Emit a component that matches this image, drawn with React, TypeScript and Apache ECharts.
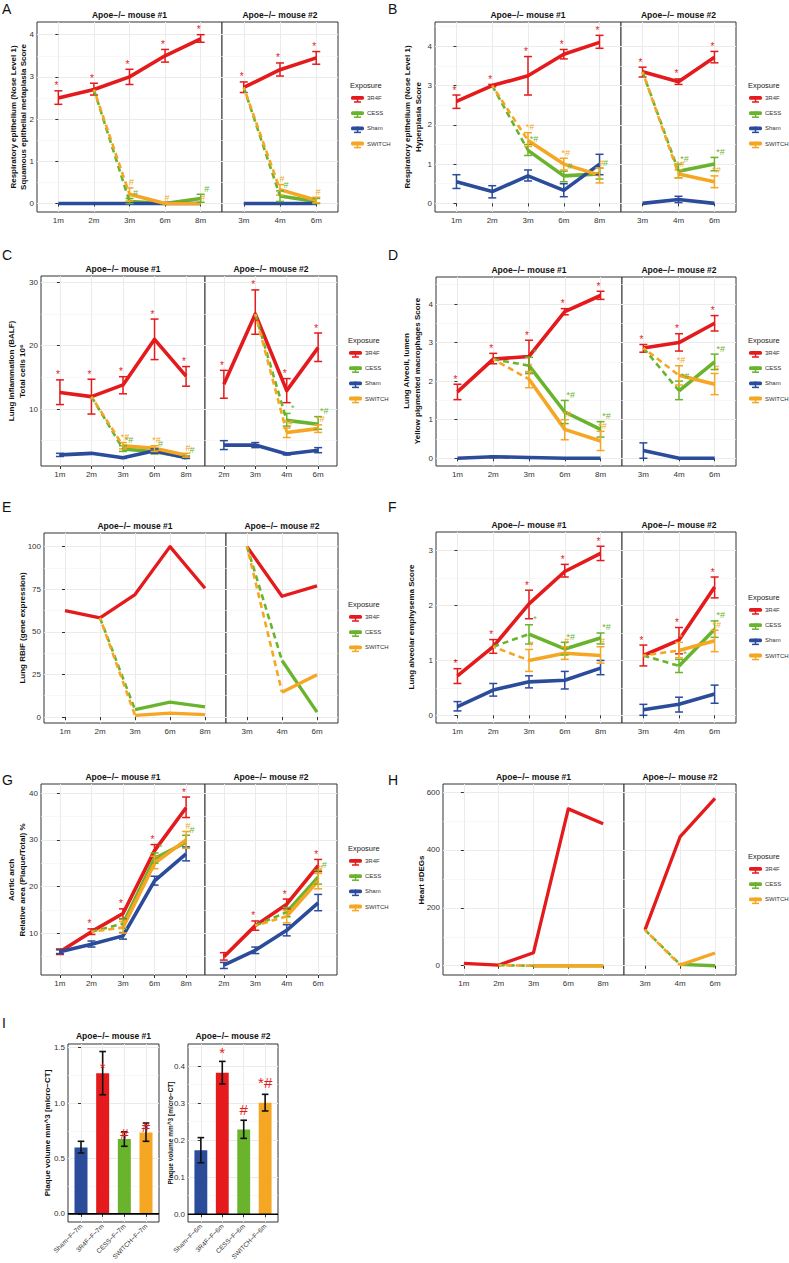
import React, { useEffect, useRef } from "react";
import * as echarts from "echarts";

const FONT = "'Liberation Sans', Arial, Helvetica, sans-serif";
const RED = "#e41a1c";
const GREEN = "#6ab42d";
const BLUE = "#2b4c9b";
const ORANGE = "#f5a623";
const INK = "#333333";
const GRIDC = "#ebebeb";
const COLORS: Record<string, string> = { "3R4F": RED, CESS: GREEN, Sham: BLUE, SWITCH: ORANGE };

// ---------------- categories / ticks ----------------
const X_18 = ["1m", "2m", "3m", "6m", "8m"];
const X_346 = ["3m", "4m", "6m"];
const X_2346 = ["2m", "3m", "4m", "6m"];
const EXPO4 = ["3R4F", "CESS", "Sham", "SWITCH"];
const EXPO3 = ["3R4F", "CESS", "SWITCH"];
const STRIP1 = "Apoe\u2212/\u2212 mouse #1";
const STRIP2 = "Apoe\u2212/\u2212 mouse #2";

// ---------------- Panel A : [mean, low, high] ----------------
const A1_3R4F = [[2.5, 2.35, 2.67], [2.7, 2.57, 2.85], [3.0, 2.82, 3.18], [3.5, 3.35, 3.65], [3.9, 3.82, 4.0]];
const A1_CESS = [null, null, [0.05, 0, 0.12], [0, 0, 0], [0.12, 0.03, 0.22]];
const A1_SHAM = [[0, 0, 0], [0, 0, 0], [0, 0, 0], [0, 0, 0], [0, 0, 0]];
const A1_SWITCH = [null, null, [0.22, 0.06, 0.37], [0, 0, 0], [0, 0, 0]];
const A2_3R4F = [[2.75, 2.63, 2.88], [3.17, 3.02, 3.33], [3.45, 3.3, 3.6]];
const A2_CESS = [null, [0.18, 0.05, 0.3], [0.05, 0, 0.12]];
const A2_SHAM = [[0, 0, 0], [0, 0, 0], [0, 0, 0]];
const A2_SWITCH = [null, [0.33, 0.2, 0.45], [0.08, 0.02, 0.15]];
const A1_SIG_3R4F = ["*", "*", "*", "*", "*"];
const A1_SIG_CESS = ["", "", "#", "", "#"];
const A1_SIG_SWITCH = ["", "", "#", "#", "#"];
const A2_SIG_3R4F = ["*", "*", "*"];
const A2_SIG_CESS = ["", "#", ""];
const A2_SIG_SWITCH = ["", "#", "#"];

// ---------------- Panel B ----------------
const B1_3R4F = [[2.6, 2.42, 2.76], [3.0, 2.97, 3.03], [3.25, 2.76, 3.74], [3.8, 3.68, 3.92], [4.1, 3.95, 4.28]];
const B1_CESS = [null, null, [1.35, 1.22, 1.5], [0.7, 0.55, 0.82], [0.75, 0.62, 0.9]];
const B1_SHAM = [[0.55, 0.38, 0.73], [0.3, 0.14, 0.45], [0.7, 0.57, 0.85], [0.33, 0.17, 0.5], [1.0, 0.73, 1.25]];
const B1_SWITCH = [null, null, [1.6, 1.45, 1.8], [1.0, 0.85, 1.15], [0.72, 0.52, 0.9]];
const B2_3R4F = [[3.35, 3.22, 3.47], [3.1, 3.03, 3.17], [3.72, 3.58, 3.87]];
const B2_CESS = [null, [0.82, 0.65, 1.0], [1.0, 0.83, 1.17]];
const B2_SHAM = [[0, 0, 0], [0.1, 0.02, 0.18], [0, 0, 0]];
const B2_SWITCH = [null, [0.75, 0.65, 0.85], [0.55, 0.4, 0.7]];
const B1_SIG_3R4F = ["*", "*", "*", "*", "*"];
const B1_SIG_CESS = ["", "", "*#", "#", "#"];
const B1_SIG_SWITCH = ["", "", "*#", "*#", "#"];
const B2_SIG_3R4F = ["*", "*", "*"];
const B2_SIG_CESS = ["", "*#", "*#"];
const B2_SIG_SWITCH = ["", "*#", "*#"];

// ---------------- Panel C ----------------
const C1_3R4F = [[12.6, 10.7, 14.6], [11.95, 9.2, 14.7], [13.8, 12.4, 15.1], [21.0, 17.8, 24.2], [15.2, 13.6, 16.7]];
const C1_CESS = [null, null, [3.7, 3.3, 4.2], [3.25, 2.9, 3.6], [2.4, 2.2, 2.6]];
const C1_SHAM = [[2.75, 2.5, 3.0], [3.0, 2.9, 3.1], [2.3, 2.2, 2.4], [3.4, 3.0, 3.7], [2.3, 2.2, 2.4]];
const C1_SWITCH = [null, null, [4.2, 3.7, 4.7], [3.8, 3.3, 4.2], [2.7, 2.4, 3.0]];
const C2_3R4F = [[13.9, 11.7, 16.1], [25.0, 21.8, 28.8], [12.9, 11.0, 14.8], [19.7, 17.5, 22.0]];
const C2_CESS = [null, null, [8.2, 7.3, 9.3], [7.6, 6.8, 8.8]];
const C2_SHAM = [[4.3, 3.6, 5.0], [4.3, 3.9, 4.7], [2.9, 2.75, 3.05], [3.5, 3.1, 3.9]];
const C2_SWITCH = [null, null, [6.3, 5.5, 7.0], [6.9, 6.3, 7.5]];
const C1_SIG_3R4F = ["*", "*", "*", "*", "*"];
const C1_SIG_CESS = ["", "", "*#", "#", "#"];
const C1_SIG_SWITCH = ["", "", "*#", "*#", "#"];
const C2_SIG_3R4F = ["*", "*", "*", "*"];
const C2_SIG_CESS = ["", "", "*", "*#"];
const C2_SIG_SWITCH = ["", "", "*#", "*#"];

// ---------------- Panel D ----------------
const D1_3R4F = [[1.72, 1.52, 1.92], [2.57, 2.45, 2.72], [2.64, 2.2, 3.06], [3.8, 3.72, 3.88], [4.22, 4.12, 4.33]];
const D1_CESS = [null, null, [2.4, 2.2, 2.62], [1.2, 0.9, 1.5], [0.75, 0.55, 0.95]];
const D1_SHAM = [[0, 0, 0], [0.04, 0.02, 0.06], [0.02, 0, 0.04], [0, 0, 0], [0, 0, 0]];
const D1_SWITCH = [null, null, [2.05, 1.83, 2.25], [0.75, 0.48, 1.0], [0.45, 0.2, 0.7]];
const D2_3R4F = [[2.86, 2.75, 2.95], [3.0, 2.78, 3.23], [3.5, 3.3, 3.7]];
const D2_CESS = [null, [1.75, 1.52, 2.0], [2.5, 2.3, 2.7]];
const D2_SHAM = [[0.2, 0.0, 0.4], [0, 0, 0], [0, 0, 0]];
const D2_SWITCH = [null, [2.15, 1.9, 2.4], [1.92, 1.65, 2.2]];
const D1_SIG_3R4F = ["*", "*", "*", "*", "*"];
const D1_SIG_CESS = ["", "", "*", "*#", "*#"];
const D1_SIG_SWITCH = ["", "", "*", "*#", "*#"];
const D2_SIG_3R4F = ["*", "*", "*"];
const D2_SIG_CESS = ["", "*#", "*#"];
const D2_SIG_SWITCH = ["", "*#", "#"];

// ---------------- Panel E (no error bars) ----------------
const E1_3R4F = [62.5, 58.2, 71.9, 100, 75.6];
const E1_CESS = [null, null, 4.3, 8.8, 5.9];
const E1_SWITCH = [null, null, 1.0, 2.3, 1.4];
const E2_3R4F = [100, 70.9, 77.0];
const E2_CESS = [null, 33.2, 2.9];
const E2_SWITCH = [null, 14.6, 24.8];

// ---------------- Panel F ----------------
const F1_3R4F = [[0.72, 0.58, 0.85], [1.25, 1.13, 1.38], [2.03, 1.76, 2.28], [2.62, 2.52, 2.75], [2.95, 2.82, 3.08]];
const F1_CESS = [null, null, [1.48, 1.3, 1.65], [1.21, 1.1, 1.33], [1.41, 1.3, 1.5]];
const F1_SHAM = [[0.16, 0.08, 0.25], [0.46, 0.35, 0.58], [0.61, 0.5, 0.72], [0.64, 0.48, 0.8], [0.86, 0.74, 1.0]];
const F1_SWITCH = [null, null, [1.0, 0.8, 1.2], [1.13, 1.02, 1.25], [1.09, 0.95, 1.25]];
const F2_3R4F = [[1.09, 0.9, 1.28], [1.37, 1.12, 1.6], [2.34, 2.14, 2.52]];
const F2_CESS = [null, [0.9, 0.78, 1.02], [1.57, 1.42, 1.72]];
const F2_SHAM = [[0.1, 0.0, 0.2], [0.2, 0.06, 0.33], [0.39, 0.22, 0.55]];
const F2_SWITCH = [null, [1.18, 1.05, 1.33], [1.36, 1.16, 1.55]];
const F1_SIG_3R4F = ["*", "*", "*", "*", "*"];
const F1_SIG_CESS = ["", "", "*", "*#", "*#"];
const F1_SIG_SWITCH = ["", "", "#", "#", "#"];
const F2_SIG_3R4F = ["*", "*", "*"];
const F2_SIG_CESS = ["", "*", "*#"];
const F2_SIG_SWITCH = ["", "*", "*#"];

// ---------------- Panel G ----------------
const G1_3R4F = [[6.0, 5.4, 6.6], [10.3, 9.7, 10.9], [14.2, 13.1, 15.2], [27.7, 26.5, 29.0], [36.9, 34.8, 39.2]];
const G1_CESS = [null, null, [12.0, 11.0, 13.0], [26.0, 25.0, 27.2], [29.5, 28.2, 31.0]];
const G1_SHAM = [[6.0, 5.6, 6.4], [7.6, 7.0, 8.3], [9.4, 8.7, 10.1], [21.2, 20.3, 22.2], [27.0, 25.5, 28.5]];
const G1_SWITCH = [null, null, [11.2, 10.0, 12.5], [25.0, 23.8, 26.5], [30.0, 28.2, 31.8]];
const G2_3R4F = [[4.9, 4.2, 5.8], [11.6, 10.6, 12.6], [16.2, 15.2, 17.3], [24.5, 23.2, 25.8]];
const G2_CESS = [null, null, [14.5, 13.5, 15.5], [22.0, 20.5, 23.5]];
const G2_SHAM = [[3.1, 2.4, 3.7], [6.3, 5.6, 7.0], [10.6, 9.4, 11.8], [16.5, 14.8, 18.3]];
const G2_SWITCH = [null, null, [13.6, 12.2, 14.8], [21.2, 19.5, 22.8]];
const G1_SIG_3R4F = ["", "*", "*", "*", "*"];
const G1_SIG_CESS = ["", "", "", "*", "#"];
const G1_SIG_SWITCH = ["", "", "", "", "#"];
const G2_SIG_3R4F = ["", "*", "*", "*"];
const G2_SIG_CESS = ["", "", "", "#"];
const G2_SIG_SWITCH = ["", "", "", "#"];

// ---------------- Panel H (no error bars) ----------------
const H1_3R4F = [8, 2, 45, 542, 491];
const H1_CESS = [null, null, 0, 0, 0];
const H1_SWITCH = [null, null, 0, 0, 0];
const H2_3R4F = [124, 445, 578];
const H2_CESS = [null, 5, 0];
const H2_SWITCH = [null, 2, 44];

// ---------------- Panel I (bars) ----------------
const I1_CATS = ["Sham\u2212F\u22127m", "3R4F\u2212F\u22127m", "CESS\u2212F\u22127m", "SWITCH\u2212F\u22127m"];
const I2_CATS = ["Sham\u2212F\u22126m", "3R4F\u2212F\u22126m", "CESS\u2212F\u22126m", "SWITCH\u2212F\u22126m"];
const I_GROUPS = ["Sham", "3R4F", "CESS", "SWITCH"];
const I1_VAL = [[0.6, 0.55, 0.655], [1.27, 1.075, 1.465], [0.675, 0.61, 0.74], [0.735, 0.655, 0.82]];
const I2_VAL = [[0.173, 0.139, 0.207], [0.382, 0.352, 0.413], [0.229, 0.205, 0.254], [0.301, 0.279, 0.324]];
const I1_SIG = ["", "*", "#", "#"];
const I2_SIG = ["", "*", "#", "*#"];

// ---------------- builder ----------------
type Grp = { name: string; vals: any[]; sig?: string[] };

function buildOption() {
  const grid: any[] = [];
  const xAxis: any[] = [];
  const yAxis: any[] = [];
  const series: any[] = [];
  const graphic: any[] = [];

  const mean = (v: any) => (Array.isArray(v) ? v[0] : v);

  const txt = (x: number, y: number, text: string, o: any = {}) => {
    const align = o.align || "left";
    const va = o.va || "middle";
    graphic.push({
      type: "text",
      x,
      y,
      rotation: o.rot || 0,
      silent: true,
      z: 50,
      style: {
        text,
        fill: o.color || "#222",
        fontSize: o.size || 8,
        fontWeight: o.weight || "normal",
        fontFamily: FONT,
        lineHeight: o.lh || undefined,
        align,
        verticalAlign: va,
        textAlign: align,
        textVerticalAlign: va,
      },
    });
  };

  const addAxes = (box: number[], cats: string[], yr: number[], majors: number[], minors: number[], showY: boolean, fmt: (v: number) => string, rotate = 0, labelSize = 8) => {
    const gi = grid.length;
    grid.push({
      left: box[0],
      top: box[1],
      width: box[2] - box[0],
      height: box[3] - box[1],
      show: true,
      borderColor: INK,
      borderWidth: 1,
      backgroundColor: "#ffffff",
    });
    const idx = cats.map((_, i) => i);
    const xi = xAxis.length;
    xAxis.push({
      type: "value",
      gridIndex: gi,
      min: -0.6,
      max: cats.length - 0.4,
      axisLine: { show: false },
      axisTick: { show: true, length: 3, customValues: idx, lineStyle: { color: INK, width: 1 } },
      axisLabel: {
        show: true,
        customValues: idx,
        formatter: (v: number) => cats[Math.round(v)] || "",
        fontSize: labelSize,
        color: INK,
        margin: rotate ? 3 : 4,
        rotate,
        fontFamily: FONT,
      },
      splitLine: { show: true, lineStyle: { color: GRIDC, width: 1 } },
    });
    const yi = yAxis.length;
    yAxis.push({
      type: "value",
      gridIndex: gi,
      min: yr[0],
      max: yr[1],
      axisLine: { show: false },
      axisTick: { show: showY, length: 3, customValues: majors, lineStyle: { color: INK, width: 1 } },
      axisLabel: { show: showY, customValues: majors, formatter: fmt, fontSize: 8, color: INK, margin: 3, fontFamily: FONT },
      splitLine: { show: true, lineStyle: { color: GRIDC, width: 1 } },
    });
    yAxis.push({
      type: "value",
      gridIndex: gi,
      min: yr[0],
      max: yr[1],
      position: "left",
      axisLine: { show: false },
      axisTick: { show: false, customValues: minors },
      axisLabel: { show: false, customValues: minors },
      splitLine: { show: true, lineStyle: { color: "#f3f3f3", width: 0.6 } },
    });
    return { xi, yi };
  };

  const errSeries = (xi: number, yi: number, data: number[][], color: string, cap: number, lw: number) => {
    if (!data.length) return;
    series.push({
      type: "custom",
      xAxisIndex: xi,
      yAxisIndex: yi,
      silent: true,
      z: 3,
      data,
      encode: { x: 0, y: [1, 2] },
      renderItem: (_p: any, api: any) => {
        const i = api.value(0);
        const a = api.coord([i, api.value(1)]);
        const b = api.coord([i, api.value(2)]);
        const st = { stroke: color, lineWidth: lw };
        return {
          type: "group",
          children: [
            { type: "line", shape: { x1: a[0], y1: a[1], x2: b[0], y2: b[1] }, style: st },
            { type: "line", shape: { x1: a[0] - cap, y1: a[1], x2: a[0] + cap, y2: a[1] }, style: st },
            { type: "line", shape: { x1: b[0] - cap, y1: b[1], x2: b[0] + cap, y2: b[1] }, style: st },
          ],
        };
      },
    });
  };

  const sigSeries = (xi: number, yi: number, data: number[][], texts: string[], color: string, size: number, dx: number, dy: number, va = "bottom") => {
    if (!data.length) return;
    series.push({
      type: "custom",
      xAxisIndex: xi,
      yAxisIndex: yi,
      silent: true,
      z: 6,
      data,
      clip: false,
      renderItem: (p: any, api: any) => {
        const c = api.coord([api.value(0), api.value(1)]);
        return {
          type: "text",
          x: c[0] + dx,
          y: c[1] + dy,
          style: {
            text: texts[p.dataIndex],
            fill: color,
            fontSize: size,
            fontFamily: FONT,
            align: "center",
            verticalAlign: va,
            textAlign: "center",
            textVerticalAlign: va,
          },
        };
      },
    });
  };

  const facet = (box: number[], cats: string[], yr: number[], majors: number[], minors: number[], showY: boolean, groups: Grp[], lw: number, strip: string) => {
    const { xi, yi } = addAxes(box, cats, yr, majors, minors, showY, (v: number) => String(v));
    txt((box[0] + box[2]) / 2, box[1] - 7.5, strip, { align: "center", size: 8.5, weight: "bold", color: "#111" });
    for (const g of groups) {
      const pts: number[][] = [];
      g.vals.forEach((v, i) => {
        if (v != null) pts.push([i, mean(v)]);
      });
      series.push({
        type: "line",
        xAxisIndex: xi,
        yAxisIndex: yi,
        data: pts,
        symbol: "none",
        showSymbol: false,
        silent: true,
        z: 2,
        lineStyle: { color: COLORS[g.name], width: lw, cap: "butt", join: "round" },
        itemStyle: { color: COLORS[g.name] },
      });
    }
    for (const g of groups) {
      const eb: number[][] = [];
      g.vals.forEach((v, i) => {
        if (Array.isArray(v) && v[2] - v[1] > 0.0001) eb.push([i, v[1], v[2]]);
      });
      errSeries(xi, yi, eb, COLORS[g.name], 4, 1.5);
    }
    const ref = groups.find((g) => g.name === "3R4F")!;
    for (const name of ["CESS", "SWITCH"]) {
      const g = groups.find((q) => q.name === name);
      if (!g) continue;
      const k = g.vals.findIndex((v) => v != null);
      if (k > 0 && ref.vals[k - 1] != null) {
        series.push({
          type: "line",
          xAxisIndex: xi,
          yAxisIndex: yi,
          data: [[k - 1, mean(ref.vals[k - 1])], [k, mean(g.vals[k])]],
          symbol: "none",
          showSymbol: false,
          silent: true,
          z: 4,
          lineStyle: { color: COLORS[name], width: 2.6, type: [6, 4], dashOffset: name === "SWITCH" ? 2.5 : 0, cap: "butt" },
        });
      }
    }
    for (const g of groups) {
      if (!g.sig) continue;
      const d: number[][] = [];
      const t: string[] = [];
      g.vals.forEach((v, i) => {
        const s = g.sig![i];
        if (v != null && s) {
          d.push([i, Array.isArray(v) ? v[2] : v]);
          t.push(s);
        }
      });
      if (g.name === "3R4F") sigSeries(xi, yi, d, t, COLORS[g.name], 10, -2, 0);
      else if (g.name === "CESS") sigSeries(xi, yi, d, t, COLORS[g.name], 9, 6, -1);
      else sigSeries(xi, yi, d, t, COLORS[g.name], 9, 2, -1);
    }
  };

  const legend = (x: number, y: number, names: string[]) => {
    txt(x, y, "Exposure", { size: 7.5, color: "#222" });
    names.forEach((n, k) => {
      const cy = y + 13 + k * 15.2;
      const c = COLORS[n];
      graphic.push({ type: "rect", silent: true, shape: { x: x + 1, y: cy - 2, width: 13, height: 3.8, r: 1.5 }, style: { fill: c } });
      graphic.push({ type: "line", silent: true, shape: { x1: x + 7.5, y1: cy - 2, x2: x + 7.5, y2: cy + 4 }, style: { stroke: c, lineWidth: 1.5 } });
      graphic.push({ type: "line", silent: true, shape: { x1: x + 4, y1: cy + 4, x2: x + 11, y2: cy + 4 }, style: { stroke: c, lineWidth: 1.5 } });
      txt(x + 17, cy, n, { size: 6, color: "#333" });
    });
  };

  const letter = (x: number, y: number, s: string) => txt(x, y, s, { size: 14, color: "#111" });
  const ytitle = (x: number, y: number, s: string, size = 8) => txt(x, y, s, { rot: Math.PI / 2, align: "center", size, weight: "bold", color: "#111", lh: size + 2.5 });

  const g4 = (r: any, c: any, s: any, w: any, sr?: any, sc?: any, sw?: any): Grp[] => [
    { name: "3R4F", vals: r, sig: sr },
    { name: "CESS", vals: c, sig: sc },
    { name: "Sham", vals: s },
    { name: "SWITCH", vals: w, sig: sw },
  ];
  const g3 = (r: any, c: any, w: any): Grp[] => [
    { name: "3R4F", vals: r },
    { name: "CESS", vals: c },
    { name: "SWITCH", vals: w },
  ];

  // ---- A ----
  letter(2, 9, "A");
  facet([37, 22, 222, 212], X_18, [-0.2, 4.3], [0, 1, 2, 3, 4], [0.5, 1.5, 2.5, 3.5], true, g4(A1_3R4F, A1_CESS, A1_SHAM, A1_SWITCH, A1_SIG_3R4F, A1_SIG_CESS, A1_SIG_SWITCH), 3.6, STRIP1);
  facet([222, 22, 338, 212], X_346, [-0.2, 4.3], [0, 1, 2, 3, 4], [0.5, 1.5, 2.5, 3.5], false, g4(A2_3R4F, A2_CESS, A2_SHAM, A2_SWITCH, A2_SIG_3R4F, A2_SIG_CESS, A2_SIG_SWITCH), 3.6, STRIP2);
  ytitle(18.5, 117, "Respiratory epithelium (Nose Level 1)\nSquamous epithelial metaplasia Score");
  legend(350, 85, EXPO4);

  // ---- B ----
  letter(388, 9, "B");
  facet([435, 22, 621, 212], X_18, [-0.22, 4.62], [0, 1, 2, 3, 4], [0.5, 1.5, 2.5, 3.5, 4.5], true, g4(B1_3R4F, B1_CESS, B1_SHAM, B1_SWITCH, B1_SIG_3R4F, B1_SIG_CESS, B1_SIG_SWITCH), 3.6, STRIP1);
  facet([621, 22, 736, 212], X_346, [-0.22, 4.62], [0, 1, 2, 3, 4], [0.5, 1.5, 2.5, 3.5, 4.5], false, g4(B2_3R4F, B2_CESS, B2_SHAM, B2_SWITCH, B2_SIG_3R4F, B2_SIG_CESS, B2_SIG_SWITCH), 3.6, STRIP2);
  ytitle(413, 117, "Respiratory epithelium (Nose Level 1)\nHyperplasia Score");
  legend(748, 85, EXPO4);

  // ---- C ----
  letter(2, 255, "C");
  facet([41, 276, 205, 466], X_18, [1.0, 31.0], [10, 20, 30], [5, 15, 25], true, g4(C1_3R4F, C1_CESS, C1_SHAM, C1_SWITCH, C1_SIG_3R4F, C1_SIG_CESS, C1_SIG_SWITCH), 3.6, STRIP1);
  facet([205, 276, 337, 466], X_2346, [1.0, 31.0], [10, 20, 30], [5, 15, 25], false, g4(C2_3R4F, C2_CESS, C2_SHAM, C2_SWITCH, C2_SIG_3R4F, C2_SIG_CESS, C2_SIG_SWITCH), 3.6, STRIP2);
  ytitle(17, 371, "Lung inflammation (BALF)\nTotal cells 10\u2076");
  legend(348, 340, EXPO4);

  // ---- D ----
  letter(388, 255, "D");
  facet([436, 277, 622, 466], X_18, [-0.2, 4.7], [0, 1, 2, 3, 4], [0.5, 1.5, 2.5, 3.5, 4.5], true, g4(D1_3R4F, D1_CESS, D1_SHAM, D1_SWITCH, D1_SIG_3R4F, D1_SIG_CESS, D1_SIG_SWITCH), 3.6, STRIP1);
  facet([622, 277, 736, 466], X_346, [-0.2, 4.7], [0, 1, 2, 3, 4], [0.5, 1.5, 2.5, 3.5, 4.5], false, g4(D2_3R4F, D2_CESS, D2_SHAM, D2_SWITCH, D2_SIG_3R4F, D2_SIG_CESS, D2_SIG_SWITCH), 3.6, STRIP2);
  ytitle(412, 371, "Lung Alveoli, lumen\nYellow pigmented macrophages Score");
  legend(748, 340, EXPO4);

  // ---- E ----
  letter(2, 507, "E");
  facet([44, 533, 226, 723], X_18, [-3.5, 108], [0, 25, 50, 75, 100], [12.5, 37.5, 62.5, 87.5], true, g3(E1_3R4F, E1_CESS, E1_SWITCH), 3.3, STRIP1);
  facet([226, 533, 338, 723], X_346, [-3.5, 108], [0, 25, 50, 75, 100], [12.5, 37.5, 62.5, 87.5], false, g3(E2_3R4F, E2_CESS, E2_SWITCH), 3.3, STRIP2);
  ytitle(22, 628, "Lung RBIF (gene expression)");
  legend(348, 604, EXPO3);

  // ---- F ----
  letter(388, 507, "F");
  facet([436, 532, 622, 723], X_18, [-0.14, 3.34], [0, 1, 2, 3], [0.5, 1.5, 2.5], true, g4(F1_3R4F, F1_CESS, F1_SHAM, F1_SWITCH, F1_SIG_3R4F, F1_SIG_CESS, F1_SIG_SWITCH), 3.6, STRIP1);
  facet([622, 532, 736, 723], X_346, [-0.14, 3.34], [0, 1, 2, 3], [0.5, 1.5, 2.5], false, g4(F2_3R4F, F2_CESS, F2_SHAM, F2_SWITCH, F2_SIG_3R4F, F2_SIG_CESS, F2_SIG_SWITCH), 3.6, STRIP2);
  ytitle(411, 627, "Lung alveolar emphysema Score");
  legend(748, 597, EXPO4);

  // ---- G ----
  letter(2, 780, "G");
  facet([41, 784, 205, 975], X_18, [1.0, 42.0], [10, 20, 30, 40], [5, 15, 25, 35], true, g4(G1_3R4F, G1_CESS, G1_SHAM, G1_SWITCH, G1_SIG_3R4F, G1_SIG_CESS, G1_SIG_SWITCH), 3.6, STRIP1);
  facet([205, 784, 337, 975], X_2346, [1.0, 42.0], [10, 20, 30, 40], [5, 15, 25, 35], false, g4(G2_3R4F, G2_CESS, G2_SHAM, G2_SWITCH, G2_SIG_3R4F, G2_SIG_CESS, G2_SIG_SWITCH), 3.6, STRIP2);
  ytitle(17, 880, "Aortic arch\nRelative area (Plaque/Total) %");
  legend(348, 848, EXPO4);

  // ---- H ----
  letter(388, 780, "H");
  facet([443, 784, 624, 975], X_18, [-32, 628], [0, 200, 400, 600], [100, 300, 500], true, g3(H1_3R4F, H1_CESS, H1_SWITCH), 3.3, STRIP1);
  facet([624, 784, 736, 975], X_346, [-32, 628], [0, 200, 400, 600], [100, 300, 500], false, g3(H2_3R4F, H2_CESS, H2_SWITCH), 3.3, STRIP2);
  ytitle(421, 880, "Heart #DEGs");
  legend(748, 856, EXPO3);

  // ---- I ----
  letter(2, 1023, "I");
  const barFacet = (box: number[], cats: string[], vals: number[][], sig: string[], yr: number[], majors: number[], minors: number[], strip: string) => {
    const { xi, yi } = addAxes(box, cats, yr, majors, minors, true, (v: number) => v.toFixed(1), 45, 6.5);
    txt((box[0] + box[2]) / 2, box[1] - 8, strip, { align: "center", size: 8.5, weight: "bold", color: "#111" });
    const colors = I_GROUPS.map((g) => COLORS[g]);
    series.push({
      type: "custom",
      xAxisIndex: xi,
      yAxisIndex: yi,
      silent: true,
      z: 2,
      data: vals.map((v, i) => [i, v[0]]),
      renderItem: (p: any, api: any) => {
        const i = api.value(0);
        const a = api.coord([i - 0.3, 0]);
        const b = api.coord([i + 0.3, api.value(1)]);
        return { type: "rect", shape: { x: a[0], y: b[1], width: b[0] - a[0], height: a[1] - b[1] }, style: { fill: colors[p.dataIndex] } };
      },
    });
    series.push({
      type: "line",
      xAxisIndex: xi,
      yAxisIndex: yi,
      data: [[-0.6, 0], [cats.length - 0.4, 0]],
      symbol: "none",
      silent: true,
      z: 3,
      lineStyle: { color: "#000", width: 1.6 },
    });
    errSeries(xi, yi, vals.map((v, i) => [i, v[1], v[2]]), "#111", 3.3, 1.6);
    const d: number[][] = [];
    const t: string[] = [];
    vals.forEach((v, i) => {
      if (sig[i]) {
        d.push([i, v[0] + 0.055]);
        t.push(sig[i]);
      }
    });
    sigSeries(xi, yi, d, t, RED, 15, 0, 0, "middle");
  };
  barFacet([68, 1044, 159, 1222], I1_CATS, I1_VAL, I1_SIG, [-0.073, 1.533], [0, 0.5, 1.0, 1.5], [0.25, 0.75, 1.25], STRIP1);
  barFacet([188, 1044, 278, 1222], I2_CATS, I2_VAL, I2_SIG, [-0.021, 0.46], [0, 0.1, 0.2, 0.3, 0.4], [0.05, 0.15, 0.25, 0.35, 0.45], STRIP2);
  ytitle(47, 1133, "Plaque volume mm^3 [micro\u2212CT]", 8);
  ytitle(170, 1133, "Plaque volume mm^3 [micro\u2212CT]", 6.5);

  return {
    animation: false,
    backgroundColor: "#ffffff",
    textStyle: { fontFamily: FONT },
    grid,
    xAxis,
    yAxis,
    series,
    graphic: { elements: graphic },
  };
}

export default function App() {
  const ref = useRef<HTMLDivElement>(null);
  useEffect(() => {
    if (!ref.current) return;
    const chart = echarts.init(ref.current, null, { renderer: "svg", width: 789, height: 1263 });
    chart.setOption(buildOption() as any);
    return () => chart.dispose();
  }, []);
  return <div ref={ref} style={{ position: "absolute", left: 0, top: 0, width: 789, height: 1263, background: "#fff" }} />;
}
